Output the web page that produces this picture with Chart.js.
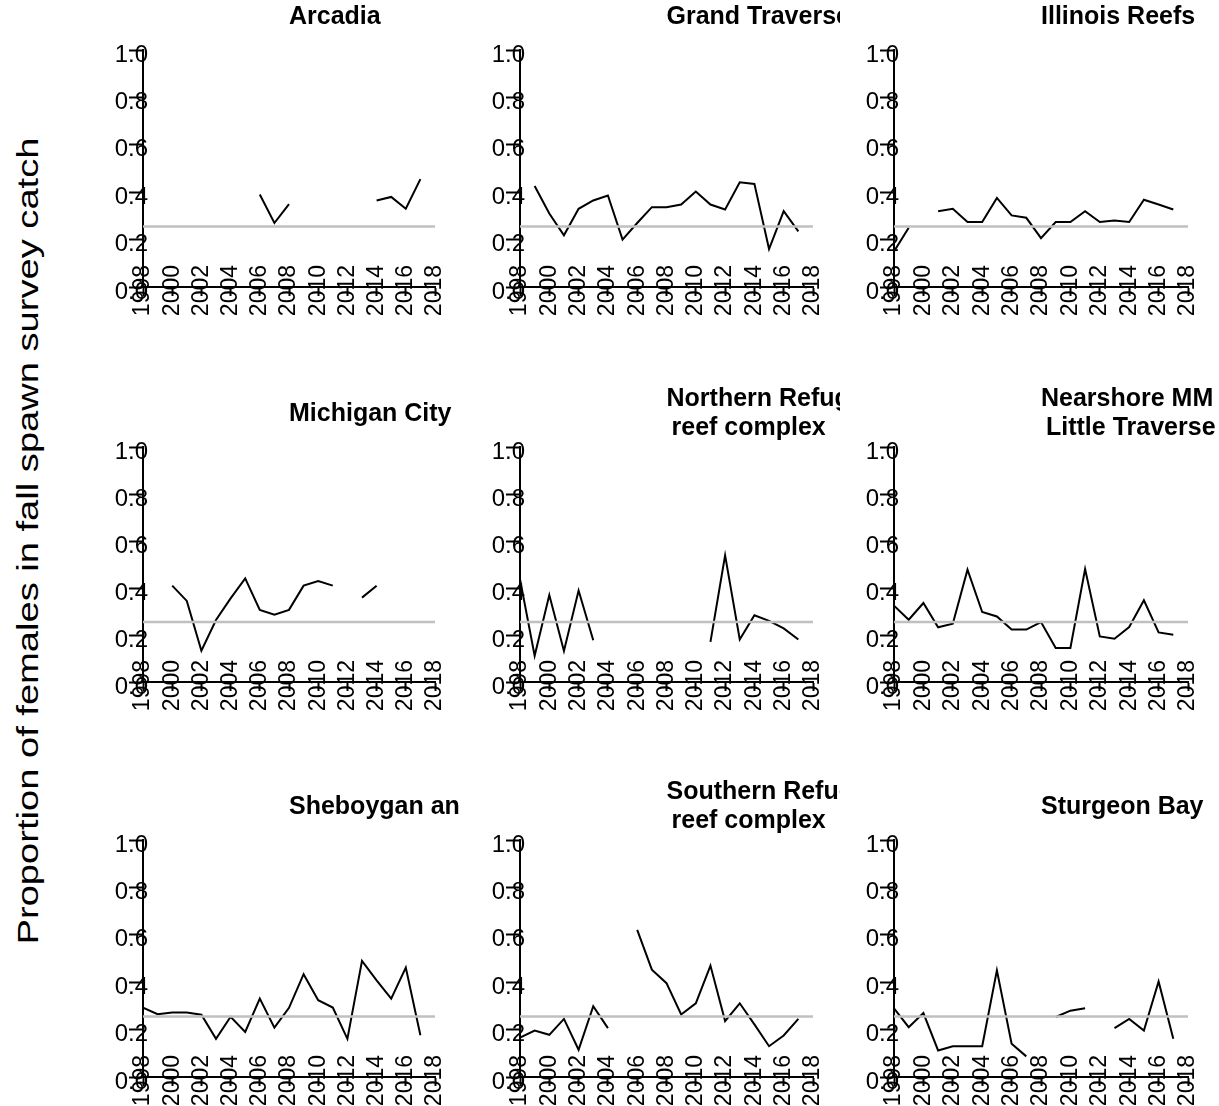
<!DOCTYPE html>
<html>
<head>
<meta charset="utf-8">
<script src="https://cdn.jsdelivr.net/npm/chart.js@4.4.0/dist/chart.umd.min.js"></script>
<style>
  body { margin: 0; background: #fff; width: 1219px; height: 1106px; position: relative; overflow: hidden;
         font-family: "Liberation Sans", Arial, sans-serif; }
  canvas { position: absolute; }
  #ytitle { position: absolute; left: 28px; top: 541px;
            transform: translate(-50%, -50%) rotate(-90deg) scaleX(1.27);
            white-space: nowrap; font-size: 30px; color: #000; }
</style>
</head>
<body>
<div id="ytitle">Proportion of females in fall spawn survey catch</div>
<script>
"use strict";

// survey years (x values)
const years = [1998, 1999, 2000, 2001, 2002, 2003, 2004, 2005, 2006, 2007,
               2008, 2009, 2010, 2011, 2012, 2013, 2014, 2015, 2016, 2017];
const xTicks = [1998, 2000, 2002, 2004, 2006, 2008, 2010, 2012, 2014, 2016, 2018];
const yTicks = [0.0, 0.2, 0.4, 0.6, 0.8, 1.0];
const referenceLevel = 0.255;

// proportion of females per site, null = no survey
const arcadia = [null, null, null, null, null, null, null, null, 0.39, 0.27,
                 0.35, null, null, null, null, null, 0.365, 0.38, 0.33, 0.455];
const grandTraverse = [null, 0.426, 0.31, 0.218, 0.33, 0.365, 0.386, 0.2, 0.27, 0.337,
                       0.337, 0.348, 0.403, 0.348, 0.327, 0.442, 0.435, 0.16, 0.32, 0.235];
const illinoisReefs = [0.15, 0.25, null, 0.32, 0.33, 0.274, 0.274, 0.376, 0.302, 0.292,
                       0.206, 0.274, 0.274, 0.32, 0.274, 0.281, 0.274, 0.368, 0.348, 0.327];
const michiganCity = [null, null, 0.41, 0.345, 0.133, 0.264, 0.356, 0.441, 0.307, 0.286,
                      0.307, 0.41, 0.43, 0.41, null, 0.359, 0.41, null, null, null];
const northernRefuge = [0.438, 0.112, 0.37, 0.132, 0.389, 0.178, null, null, null, null,
                        null, null, null, 0.171, 0.539, 0.181, 0.284, 0.26, 0.228, 0.181];
const nearshoreMM = [0.325, 0.265, 0.336, 0.233, 0.248, 0.478, 0.298, 0.279, 0.223, 0.223,
                     0.255, 0.145, 0.145, 0.481, 0.194, 0.184, 0.234, 0.348, 0.211, 0.201];
const sheboygan = [0.293, 0.265, 0.272, 0.272, 0.263, 0.161, 0.254, 0.19, 0.331, 0.208,
                   0.292, 0.434, 0.324, 0.293, 0.161, 0.49, 0.408, 0.331, 0.462, 0.176];
const southernRefuge = [0.166, 0.196, 0.178, 0.245, 0.115, 0.299, 0.206, null, 0.621, 0.453,
                        0.396, 0.264, 0.311, 0.47, 0.236, 0.311, 0.222, 0.13, 0.175, 0.245];
const sturgeonBay = [0.29, 0.21, 0.27, 0.112, 0.13, 0.13, 0.13, 0.45, 0.14, 0.087,
                     null, 0.253, 0.28, 0.29, null, 0.206, 0.245, 0.196, 0.403, 0.161];

const siteTitles = [
  ["Arcadia"], ["Grand Traverse Bay"], ["Illinois Reefs"],
  ["Michigan City"], ["Northern Refuge", "reef complex"], ["Nearshore MM", "Little Traverse"],
  ["Sheboygan and"], ["Southern Refuge", "reef complex"], ["Sturgeon Bay"]
];
const siteValues = [arcadia, grandTraverse, illinoisReefs,
                    michiganCity, northernRefuge, nearshoreMM,
                    sheboygan, southernRefuge, sturgeonBay];

Chart.defaults.font.family = '"Liberation Sans", Arial, sans-serif';
Chart.defaults.color = "#000";

// grid cells (canvas boxes + paddings that put the plot area where the original has it)
const cols = [
  { left: 60, w: 400, padL: 43, padR: 25 },
  { left: 460, w: 380, padL: 20, padR: 27 },
  { left: 840, w: 379, padL: 14, padR: 31 },
];
const rows = [
  { top: 0, h: 370, padT: 50, padB: 63 },
  { top: 370, h: 380, padT: 77, padB: 48 },
  { top: 750, h: 356, padT: 90, padB: 9 },
];

// bold site name drawn above each plot, cut by the canvas edge like the original
const panelTitle = {
  id: "panelTitle",
  afterDraw(chart, args, opts) {
    const { ctx, chartArea } = chart;
    const cx = (chartArea.left + chartArea.right) / 2;
    const offs = opts.lines.length > 1 ? [-48, -19] : [-33];
    ctx.save();
    ctx.font = 'bold 25px "Liberation Sans", Arial, sans-serif';
    ctx.fillStyle = "#000";
    ctx.textAlign = "left";
    ctx.textBaseline = "middle";
    opts.lines.forEach((t, i) => ctx.fillText(t, cx + (i ? 5 : 0), chartArea.top + offs[i]));
    ctx.restore();
  },
};

// the tick labels sit across the axis lines, so don't clip them to the scale box
const noLabelClip = (scale) => { scale._computeLabelArea = () => undefined; };

siteValues.forEach((vals, idx) => {
  const col = cols[idx % 3];
  const row = rows[Math.floor(idx / 3)];
  const canvas = document.createElement("canvas");
  canvas.width = col.w;
  canvas.height = row.h;
  canvas.style.left = col.left + "px";
  canvas.style.top = row.top + "px";
  document.body.appendChild(canvas);

  const config = {
    type: "line",
    data: {
      datasets: [
        {
          data: [
            { x: xTicks[0], y: referenceLevel },
            { x: xTicks[xTicks.length - 1], y: referenceLevel },
          ],
          borderColor: "#c0c0c0",
          borderWidth: 2.5,
          pointRadius: 0,
        },
        {
          data: years.map((yr, k) => ({ x: yr, y: vals[k] })),
          borderColor: "#000",
          borderWidth: 2,
          pointRadius: 0,
          tension: 0,
          spanGaps: false,
        },
      ],
    },
    options: {
      responsive: false,
      animation: false,
      events: [],
      layout: {
        padding: { left: col.padL, right: col.padR, top: row.padT, bottom: row.padB },
      },
      plugins: {
        legend: { display: false },
        tooltip: { enabled: false },
        panelTitle: { lines: siteTitles[idx] },
      },
      scales: {
        x: {
          type: "linear",
          min: xTicks[0],
          max: xTicks[xTicks.length - 1],
          afterBuildTicks: (scale) => { scale.ticks = xTicks.map((v) => ({ value: v })); },
          afterFit: (scale) => { scale.height = 20; noLabelClip(scale); },
          border: { display: true, color: "#000", width: 2 },
          grid: { drawOnChartArea: false, drawTicks: true, tickLength: 9, tickColor: "#000", tickWidth: 2 },
          ticks: {
            autoSkip: false,
            minRotation: 90,
            maxRotation: 90,
            padding: -31,
            font: { size: 23 },
            callback: (v) => String(v),
          },
        },
        y: {
          min: yTicks[0],
          max: yTicks[yTicks.length - 1],
          afterBuildTicks: (scale) => { scale.ticks = yTicks.map((v) => ({ value: v })); },
          afterFit: (scale) => { scale.width = 40; noLabelClip(scale); },
          border: { display: true, color: "#000", width: 2 },
          grid: { drawOnChartArea: false, drawTicks: true, tickLength: 14, tickColor: "#000", tickWidth: 2 },
          ticks: {
            padding: -19,
            labelOffset: 5,
            font: { size: 24 },
            callback: (v) => v.toFixed(1),
          },
        },
      },
    },
    plugins: [panelTitle],
  };
  new Chart(canvas, config);
});
</script>
</body>
</html>
